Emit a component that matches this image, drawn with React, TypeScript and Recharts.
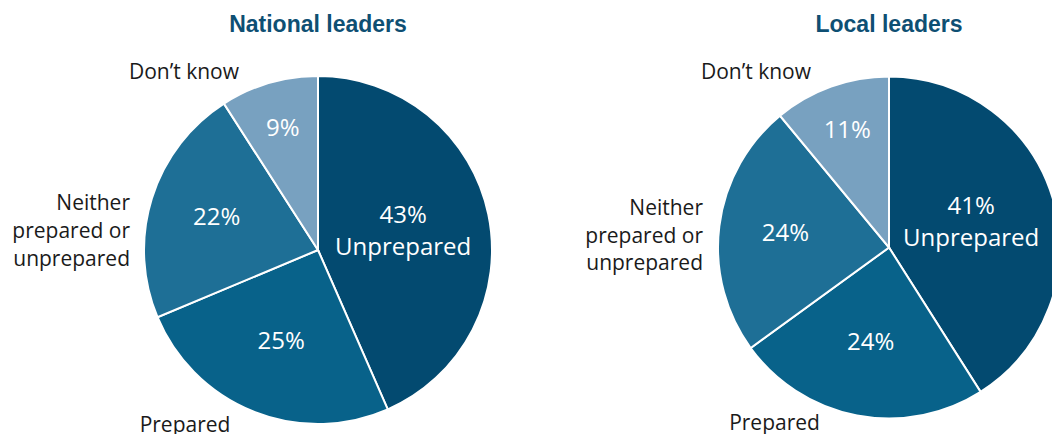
import React from 'react';
import { PieChart, Pie, Cell } from 'recharts';

const sliceNames = ['Unprepared', 'Prepared', 'Neither prepared or unprepared', "Don\u2019t know"];
const nationalValues = [43, 25, 22, 9];
const localValues = [41, 24, 24, 11];
const chartTitles = ['National leaders', 'Local leaders'];

const sliceColors = ['#034a70', '#08628a', '#1e6f96', '#78a1c0'];

const RAD = Math.PI / 180;
const labelFont = "'Open Sans', sans-serif";

// how far out (as fraction of radius) each inner percentage sits
const innerRatio = [0.5, 0.57, 0.61, 0.72];

// outer label placement relative to the pie centre
type OuterLabel = { dx: number; dy: number[]; lines: string[]; anchor: 'start' | 'middle' | 'end' };
const outerLayouts: Record<string, OuterLabel[]> = {
    national: [
        { dx: -134, dy: [-171], lines: ["Don\u2019t know"], anchor: 'middle' },
        { dx: -188, dy: [-40, -12, 16], lines: ['Neither', 'prepared or', 'unprepared'], anchor: 'end' },
        { dx: -133, dy: [182], lines: ['Prepared'], anchor: 'middle' },
    ],
    local: [
        { dx: -133, dy: [-168.5], lines: ["Don\u2019t know"], anchor: 'middle' },
        { dx: -186, dy: [-32.5, -4.5, 22.5], lines: ['Neither', 'prepared or', 'unprepared'], anchor: 'end' },
        { dx: -114.5, dy: [182.5], lines: ['Prepared'], anchor: 'middle' },
    ],
};

const makeInnerLabel = (props: any) => {
    const { cx, cy, midAngle, outerRadius, value, index } = props;
    const r = outerRadius * innerRatio[index];
    const x = cx + r * Math.cos(-midAngle * RAD);
    const y = cy + r * Math.sin(-midAngle * RAD) - 3;
    if (index === 0) {
        return (
            <g>
                <text x={x} y={y - 16} fill="#fff" fontSize={24} fontFamily={labelFont} textAnchor="middle" dominantBaseline="central">
                    {value}%
                </text>
                <text x={x} y={y + 16} fill="#fff" fontSize={24} fontFamily={labelFont} textAnchor="middle" dominantBaseline="central">
                    {sliceNames[0]}
                </text>
            </g>
        );
    }
    return (
        <text x={x} y={y} fill="#fff" fontSize={24} fontFamily={labelFont} textAnchor="middle" dominantBaseline="central">
            {value}%
        </text>
    );
};

const OuterLabels = ({ cx, cy, layout }: { cx: number; cy: number; layout: OuterLabel[] }) => (
    <g>
        {layout.map((l, i) =>
            l.lines.map((line, j) => (
                <text
                    key={`${i}-${j}`}
                    x={cx + l.dx}
                    y={cy + l.dy[j]}
                    fill="#1a1a1a"
                    fontSize={21}
                    fontFamily={labelFont}
                    textAnchor={l.anchor}
                >
                    {line}
                </text>
            ))
        )}
    </g>
);

const App: React.FC = () => {
    const nationalData = sliceNames.map((name, i) => ({ name, value: nationalValues[i] }));
    const localData = sliceNames.map((name, i) => ({ name, value: localValues[i] }));

    const pies = [
        { data: nationalData, cx: 318, cy: 250, r: 174, title: chartTitles[0], layout: outerLayouts.national },
        { data: localData, cx: 889, cy: 247.5, r: 171, title: chartTitles[1], layout: outerLayouts.local },
    ];

    return (
        <div style={{ position: 'absolute', left: 0, top: 0, width: 1052, height: 434, background: '#fff' }}>
            <PieChart width={1052} height={434} margin={{ top: 0, right: 0, bottom: 0, left: 0 }}>
                {pies.map((p) => (
                    <Pie
                        key={p.title}
                        data={p.data}
                        dataKey="value"
                        nameKey="name"
                        cx={p.cx}
                        cy={p.cy}
                        outerRadius={p.r}
                        startAngle={90}
                        endAngle={-270}
                        stroke="#fff"
                        strokeWidth={2}
                        labelLine={false}
                        label={makeInnerLabel}
                        isAnimationActive={false}
                    >
                        {p.data.map((d, i) => (
                            <Cell key={d.name} fill={sliceColors[i]} />
                        ))}
                    </Pie>
                ))}
                {pies.map((p) => (
                    <g key={`o-${p.title}`}>
                        <text
                            x={p.cx}
                            y={32}
                            fill="#0e4f73"
                            fontSize={23}
                            fontWeight="bold"
                            fontFamily="'Liberation Sans', Arial, sans-serif"
                            textAnchor="middle"
                        >
                            {p.title}
                        </text>
                        <OuterLabels cx={p.cx} cy={p.cy} layout={p.layout} />
                    </g>
                ))}
            </PieChart>
        </div>
    );
};

export default App;
